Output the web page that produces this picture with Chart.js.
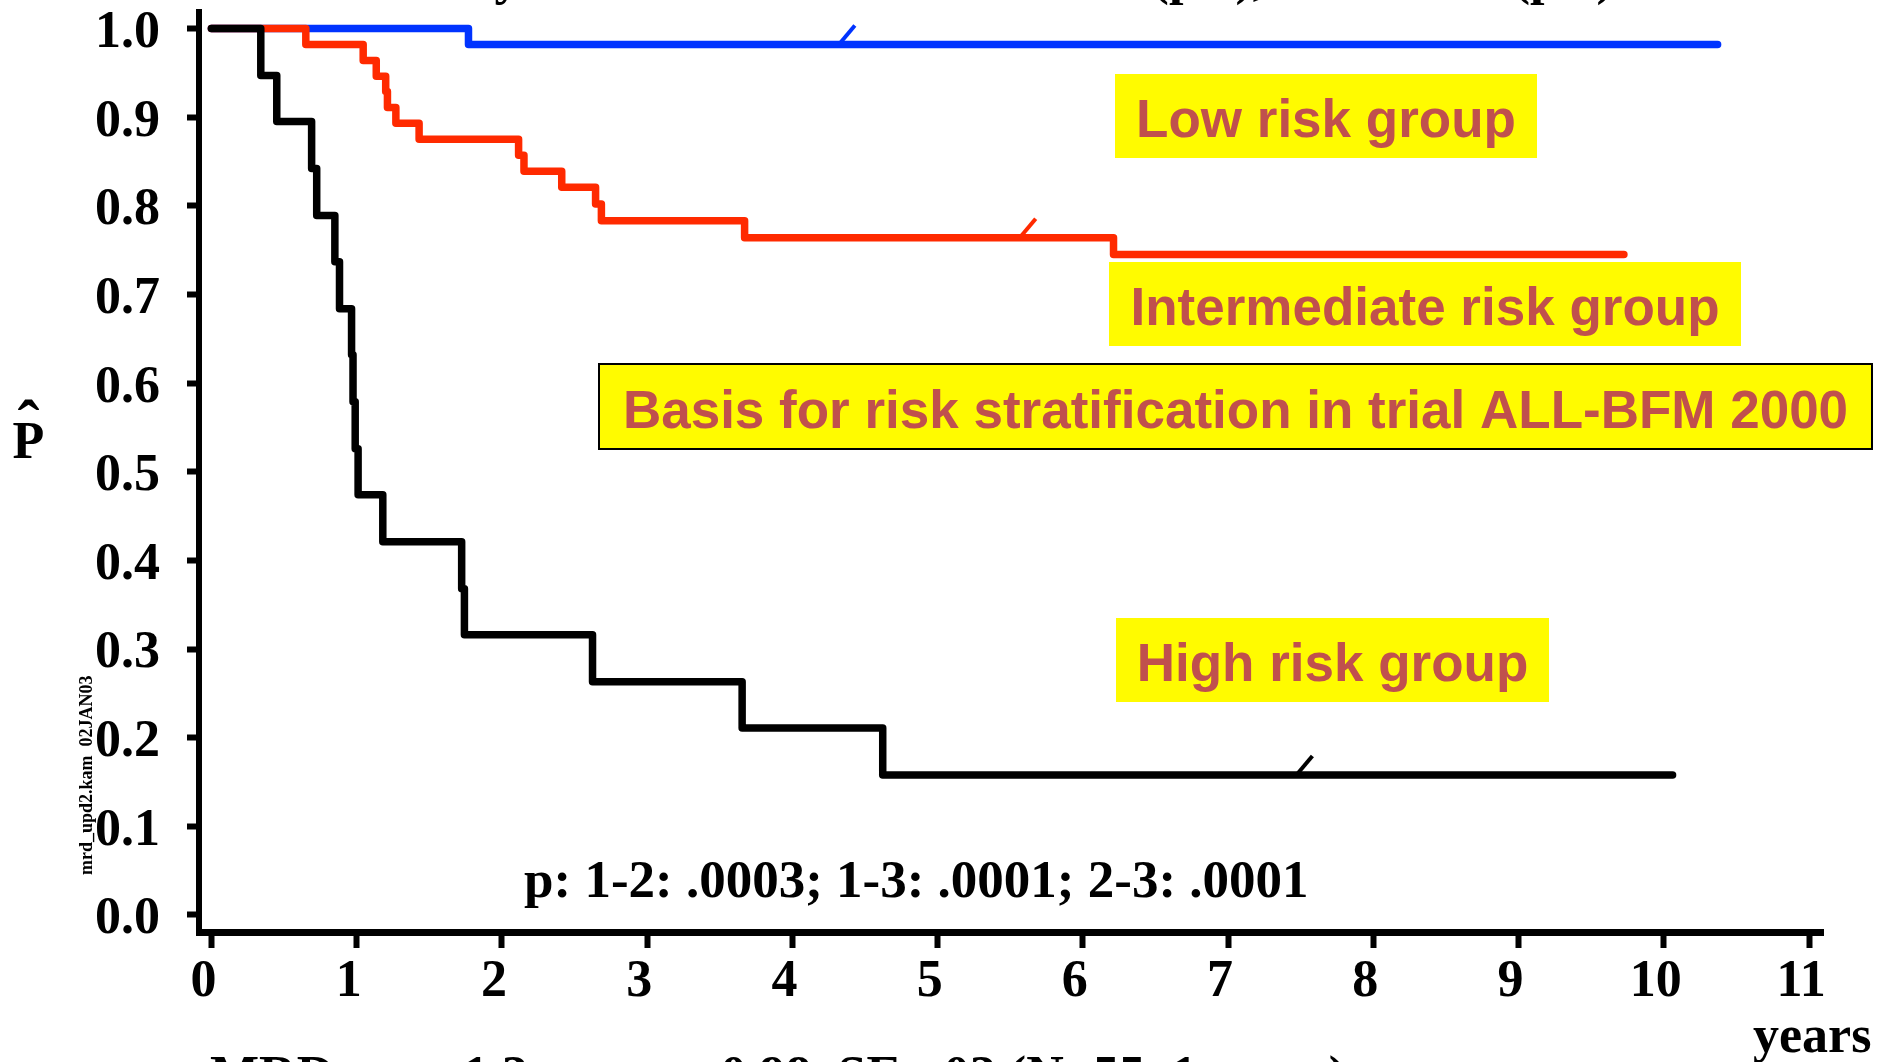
<!DOCTYPE html>
<html>
<head>
<meta charset="utf-8">
<title>EFS by MRD risk group</title>
<script src="https://cdn.jsdelivr.net/npm/chart.js@4.4.1/dist/chart.umd.min.js"></script>
<style>
  html, body { margin: 0; padding: 0; background: #ffffff; overflow: hidden; }
  canvas { display: block; }
</style>
</head>
<body>
<canvas id="km" width="1894" height="1062"></canvas>
<script>
// Kaplan-Meier estimates: event times (years) and survival after each step
const lowTimes   = [0, 1.77, 10.37];
const lowSurv    = [1, 0.982, 0.982];

const interTimes = [0, 0.65, 1.045, 1.135, 1.20, 1.212, 1.27, 1.43, 2.115, 2.152, 2.412, 2.645, 2.685, 3.671, 6.211, 9.725];
const interSurv  = [1, 0.982, 0.964, 0.946, 0.929, 0.911, 0.893, 0.875, 0.857, 0.839, 0.821, 0.802, 0.783, 0.764, 0.745, 0.745];

const highTimes  = [0, 0.34, 0.45, 0.69, 0.725, 0.85, 0.882, 0.965, 0.975, 0.99, 1.01, 1.18, 1.723, 1.742, 2.624, 3.654, 4.622, 10.06];
const highSurv   = [1, 0.947, 0.895, 0.842, 0.789, 0.737, 0.684, 0.632, 0.579, 0.526, 0.474, 0.421, 0.368, 0.316, 0.263, 0.211, 0.158, 0.158];

// single censoring marks drawn on each curve (years)
const lowCensor   = [4.32];
const interCensor = [5.565];
const highCensor  = [7.47];

// axes
const xTicks      = [0, 1, 2, 3, 4, 5, 6, 7, 8, 9, 10, 11];
const xTickLabels = ['0', '1', '2', '3', '4', '5', '6', '7', '8', '9', '10', '11'];
const yTicks      = [0, 0.1, 0.2, 0.3, 0.4, 0.5, 0.6, 0.7, 0.8, 0.9, 1.0];
const yTickLabels = ['0.0', '0.1', '0.2', '0.3', '0.4', '0.5', '0.6', '0.7', '0.8', '0.9', '1.0'];

// texts
const groupLabels = ['Low risk group', 'Intermediate risk group', 'High risk group'];
const noteText    = 'Basis for risk stratification in trial ALL-BFM 2000';
const pValueText  = 'p: 1-2: .0003; 1-3: .0001; 2-3: .0001';
const xUnitText   = 'years';
const fileStamp   = 'mrd_upd2.kam  02JAN03';
const headText    = 'Probability of EFS in MRD risk strata: (pts), in median (pts)';
const footText    = 'MRD at tp 1,2 neg: p= 0.98, SE=.02 (N=55, 1 event)';

const SERIF = '"Liberation Serif", "Times New Roman", serif';
const SANS  = '"Liberation Sans", Arial, sans-serif';

function toPoints(times, surv) {
  return times.map((t, i) => ({ x: t, y: surv[i] }));
}
// value of a step curve at time t
function stepValue(times, surv, t) {
  let v = surv[0];
  for (let i = 0; i < times.length; i++) if (times[i] <= t) v = surv[i];
  return v;
}

const curves = [
  { times: highTimes,  surv: highSurv,  censor: highCensor,  color: '#000000' },
  { times: interTimes, surv: interSurv, censor: interCensor, color: '#ff2a00' },
  { times: lowTimes,   surv: lowSurv,   censor: lowCensor,   color: '#0033ff' }
];

const overlay = {
  id: 'overlay',
  afterDatasetsDraw(chart) {
    const ctx = chart.ctx;
    const xs = chart.scales.x, ys = chart.scales.y;
    ctx.save();
    // censoring slashes
    ctx.lineWidth = 4;
    ctx.lineCap = 'butt';
    curves.forEach(c => {
      ctx.strokeStyle = c.color;
      c.censor.forEach(t => {
        const px = xs.getPixelForValue(t);
        const py = ys.getPixelForValue(stepValue(c.times, c.surv, t));
        ctx.beginPath();
        ctx.moveTo(px, py);
        ctx.lineTo(px + 16, py - 19);
        ctx.stroke();
      });
    });
    ctx.restore();
  },
  afterDraw(chart) {
    const ctx = chart.ctx;
    ctx.save();

    // labelled boxes
    const boxes = [
      { text: groupLabels[0], x: 1115, y: 74,  w: 422,  h: 84, border: false },
      { text: groupLabels[1], x: 1109, y: 262, w: 632,  h: 84, border: false },
      { text: noteText,       x: 598,  y: 363, w: 1275, h: 87, border: true },
      { text: groupLabels[2], x: 1116, y: 618, w: 433,  h: 84, border: false }
    ];
    boxes.forEach(b => {
      ctx.fillStyle = '#fffb00';
      ctx.fillRect(b.x, b.y, b.w, b.h);
      if (b.border) {
        ctx.strokeStyle = '#000000';
        ctx.lineWidth = 2;
        ctx.strokeRect(b.x + 1, b.y + 1, b.w - 2, b.h - 2);
      }
      ctx.fillStyle = '#c0504d';
      ctx.font = 'bold 53px ' + SANS;
      ctx.textAlign = 'center';
      ctx.textBaseline = 'alphabetic';
      ctx.fillText(b.text, b.x + b.w / 2, b.y + b.h / 2 + 21);
    });

    ctx.fillStyle = '#000000';
    ctx.textBaseline = 'alphabetic';

    // p-values
    ctx.font = 'bold 53px ' + SERIF;
    ctx.textAlign = 'left';
    ctx.fillText(pValueText, 524, 897);

    // unit of the time axis
    ctx.font = 'bold 52px ' + SERIF;
    ctx.fillText(xUnitText, 1753, 1052);

    // heading and footer, partly outside the canvas
    ctx.fillText(headText, 270, -6);
    ctx.fillText(footText, 210, 1092);

    // y-axis title: P with a hat
    ctx.textAlign = 'center';
    ctx.fillText('P', 28.5, 458);
    ctx.font = 'bold 66px ' + SERIF;
    const m = ctx.measureText('\u02C6');
    ctx.fillText('\u02C6', 28.5, 410 - m.actualBoundingBoxDescent);

    // file stamp, rotated
    ctx.font = 'bold 18px ' + SERIF;
    ctx.textAlign = 'left';
    ctx.translate(92, 875);
    ctx.rotate(-Math.PI / 2);
    ctx.fillText(fileStamp, 0, 0);

    ctx.restore();
  }
};

Chart.defaults.font.family = SERIF;

new Chart(document.getElementById('km'), {
  type: 'line',
  data: {
    datasets: curves.map(c => ({
      data: toPoints(c.times, c.surv),
      borderColor: c.color,
      backgroundColor: c.color,
      borderWidth: 7.5,
      stepped: 'before',
      pointRadius: 0,
      fill: false,
      borderCapStyle: 'round',
      borderJoinStyle: 'round'
    }))
  },
  options: {
    responsive: false,
    devicePixelRatio: 1,
    animation: false,
    events: [],
    layout: { padding: { left: 0, top: 12, right: 71, bottom: 0 } },
    plugins: { legend: { display: false }, tooltip: { enabled: false }, title: { display: false } },
    scales: {
      x: {
        type: 'linear',
        min: -0.0854,
        max: 11.0957,
        afterBuildTicks: s => { s.ticks = xTicks.map(v => ({ value: v })); },
        afterFit: s => { s.height = 130; s.paddingLeft = 0; s.paddingRight = 0; },
        ticks: {
          autoSkip: false,
          maxRotation: 0,
          color: '#000000',
          font: { family: SERIF, weight: 'bold', size: 52 },
          padding: 3,
          labelOffset: -8,
          callback: (v, i) => xTickLabels[i]
        },
        grid: { display: true, drawOnChartArea: false, drawTicks: true, tickLength: 16, tickWidth: 6, tickColor: '#000000' },
        border: { display: true, width: 7, color: '#000000' }
      },
      y: {
        type: 'linear',
        min: -0.01918,
        max: 1.01861,
        afterBuildTicks: s => { s.ticks = yTicks.map(v => ({ value: v })); },
        afterFit: s => { s.width = 199; s.paddingTop = 0; s.paddingBottom = 0; },
        ticks: {
          autoSkip: false,
          color: '#000000',
          font: { family: SERIF, weight: 'bold', size: 52 },
          padding: 27,
          labelOffset: 5,
          callback: (v, i) => yTickLabels[i]
        },
        grid: { display: true, drawOnChartArea: false, drawTicks: true, tickLength: 12, tickWidth: 6, tickColor: '#000000' },
        border: { display: true, width: 6, color: '#000000' }
      }
    }
  },
  plugins: [overlay]
});
</script>
</body>
</html>
